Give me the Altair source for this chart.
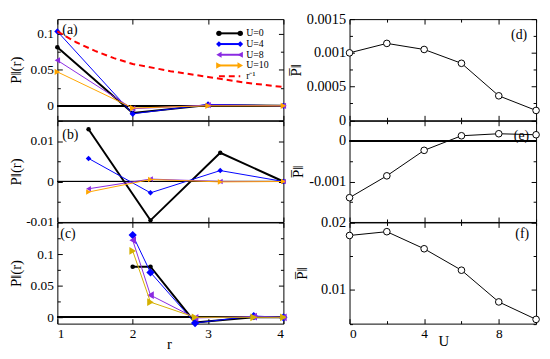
import altair as alt
import pandas as pd

FONT = "Liberation Serif"

# ---------------- data ----------------
series_names = ["U=0", "U=4", "U=8", "U=10"]
inv_name = "r\u207b\u00b9"

# panel (a)
r_a = [1.0, 2.0, 3.0, 4.0]
a_u0 = [0.081, -0.010, 0.001, 0.0]
a_u4 = [0.103, -0.011, 0.002, 0.0]
a_u8 = [0.063, -0.004, 0.001, 0.0]
a_u10 = [0.047, -0.003, 0.0, 0.0]
r_inv = [1.0, 1.25, 1.5, 1.75, 2.0, 2.5, 3.0, 3.5, 4.0]
v_inv = [0.103, 0.088, 0.076, 0.066, 0.058, 0.048, 0.040, 0.032, 0.026]

# panel (b)
r_b = [1.414, 2.236, 3.162, 4.0]
b_u0 = [0.0129, -0.0096, 0.0071, 0.0]
b_u4 = [0.0057, -0.0028, 0.0027, 0.0]
b_u8 = [-0.0018, 0.0006, 0.0, 0.0]
b_u10 = [-0.0026, 0.0005, -0.0001, 0.0]

# panel (c)
r_c = [2.0, 2.236, 2.828, 3.606, 4.0]
c_u0 = [0.080, 0.080, -0.008, 0.0, 0.0]
c_u4 = [0.130, 0.071, -0.009, 0.002, 0.0]
c_u8 = [0.122, 0.035, -0.001, 0.001, 0.0]
c_u10 = [0.105, 0.024, 0.0, 0.0, 0.0]

# panels (d)-(f)
U_vals = [0, 2, 4, 6, 8, 10]
d_vals = [0.00100, 0.00114, 0.00105, 0.000845, 0.000363, 0.000146]
e_vals = [-0.00140, -0.00086, -0.00023, 0.00013, 0.00018, 0.000155]
f_vals = [0.01807, 0.01863, 0.0161, 0.01292, 0.00822, 0.00563]

panel_labels = ["(a)", "(b)", "(c)", "(d)", "(e)", "(f)"]


def table(xs, named):
    rows = []
    for name, vals in named:
        for x, y in zip(xs, vals):
            rows.append({"x": x, "y": y, "s": name})
    return pd.DataFrame(rows)


df_a = table(r_a, zip(series_names, [a_u0, a_u4, a_u8, a_u10]))
df_inv = table(r_inv, [(inv_name, v_inv)])
df_a = pd.concat([df_a, df_inv], ignore_index=True)
df_b = table(r_b, zip(series_names, [b_u0, b_u4, b_u8, b_u10]))
df_c = table(r_c, zip(series_names, [c_u0, c_u4, c_u8, c_u10]))
df_d = table(U_vals, [("d", d_vals)])
df_e = table(U_vals, [("e", e_vals)])
df_f = table(U_vals, [("f", f_vals)])

# ---------------- styles ----------------
COL = {"U=0": "#000000", "U=4": "#0000ff", "U=8": "#8a2be2", "U=10": "#ffa500"}
COL_C = dict(COL, **{"U=10": "#d4b000"})
SHAPE = {"U=0": "circle", "U=4": "diamond", "U=8": "triangle-left", "U=10": "triangle-right"}
LW = {"U=0": 2.0, "U=4": 1.0, "U=8": 1.0, "U=10": 1.0}

WL, WR, H = 229, 189, 102.5

legend_names = series_names + [inv_name]
legend_colors = [COL[s] for s in series_names] + ["#ff0000"]
LEG_X0, LEG_X1, LEG_TX = 163.7, 185.3, 191.3
LEG_Y = [14.4, 57.8]


def tick_axis(orient, values, size, offset):
    return alt.Axis(orient=orient, values=values, offset=offset, tickSize=size, ticks=True,
                    labels=False, domain=False, grid=False, title=None,
                    tickColor="black", tickWidth=1)


def label_layer(text, x, y, align):
    return alt.Chart(pd.DataFrame({"t": [text]})).mark_text(
        align=align, baseline="middle", font=FONT, fontSize=14, color="black"
    ).encode(text="t:N", x=alt.value(x), y=alt.value(y))


def panel(df, data_layers, xdom, ydom, w, h, xmaj, xmin, ymaj, ymin, ylab, ytitle, ytitle_x,
          lab_size, label, xlab=None, xtitle=None, xtitle_x=None, xtitle_y=20,
          extra=None, zero=True):
    xs = alt.Scale(domain=xdom, nice=False, zero=False)
    ys = alt.Scale(domain=ydom, nice=False, zero=False)

    def X(ax):
        return alt.X("x:Q", scale=xs, axis=ax)

    def Y(ax):
        return alt.Y("y:Q", scale=ys, axis=ax)

    empty = alt.Chart(df).transform_filter("false").mark_point(opacity=0)
    yl = alt.Axis(orient="left", values=ylab, ticks=False, tickSize=0, domain=False, grid=False,
                  labelExpr="toString(datum.value)", labelFont=FONT, labelFontSize=lab_size,
                  labelColor="black", labelPadding=4, labelOverlap=False,
                  title=ytitle, titleFont=FONT, titleFontSize=15, titleFontWeight="normal",
                  titleColor="black", titleAngle=270, titleX=ytitle_x, titleY=h / 2,
                  titleBaseline="middle", titleAlign="center")
    if xlab is not None:
        xl = alt.Axis(orient="bottom", values=xlab, ticks=False, tickSize=0, domain=False,
                      grid=False, labelExpr="toString(datum.value)", labelFont=FONT,
                      labelFontSize=13.5, labelColor="black", labelPadding=3, labelOverlap=False,
                      title=xtitle, titleFont=FONT, titleFontSize=15, titleFontWeight="normal",
                      titleColor="black", titleX=xtitle_x, titleY=xtitle_y,
                      titleBaseline="middle", titleAlign="center")
    else:
        xl = None
    layers = []
    if zero:
        layers.append(alt.Chart(df).mark_rule(color="black", strokeWidth=1).encode(
            y=alt.YDatum(0, scale=ys, axis=None)))
    layers.append(label_layer(*label))
    for lay in data_layers:
        layers.append(lay(X(None), Y(None)))
    layers += [
        empty.encode(x=X(xl), y=Y(yl)),
        empty.encode(x=X(tick_axis("bottom", xmaj, 5, -h)), y=Y(tick_axis("right", ymaj, 5, -w))),
        empty.encode(x=X(tick_axis("top", xmaj, 5, -h)), y=Y(tick_axis("left", ymaj, 5, -w))),
        empty.encode(x=X(tick_axis("bottom", xmin, 3, -h)), y=Y(tick_axis("right", ymin, 3, -w))),
        empty.encode(x=X(tick_axis("top", xmin, 3, -h)), y=Y(tick_axis("left", ymin, 3, -w))),
    ]
    if extra is not None:
        layers += extra
    ch = alt.layer(*layers).resolve_axis(x="independent", y="independent")
    if extra is not None:
        ch = ch.resolve_scale(y="independent")
    return ch.properties(width=w, height=h)


def series_layer(df, name, color, lw, shape, size, dash=None):
    def make(xe, ye):
        base = alt.Chart(df).transform_filter(alt.datum.s == name)
        kw = dict(color=color, strokeWidth=lw)
        if dash:
            kw["strokeDash"] = dash
        line = base.mark_line(**kw).encode(x=xe, y=ye)
        if shape is None:
            return line
        pts = base.mark_point(filled=True, shape=shape, size=size, color=color,
                              opacity=1, strokeWidth=0.5).encode(x=xe, y=ye)
        return alt.layer(line, pts)
    return make


def hollow_layer(df):
    def make(xe, ye):
        base = alt.Chart(df)
        line = base.mark_line(color="black", strokeWidth=1).encode(x=xe, y=ye)
        pts = base.mark_point(shape="circle", filled=True, fill="white", stroke="black",
                              strokeWidth=1, size=45, opacity=1).encode(x=xe, y=ye)
        return alt.layer(line, pts)
    return make


# ---------------- legend of panel (a), built from the legend names ----------------
leg_df = pd.DataFrame({"s": legend_names, "row": list(range(len(legend_names)))})
row_y = alt.Y("row:Q", scale=alt.Scale(domain=[0, len(legend_names) - 1], range=LEG_Y,
                                        zero=False, nice=False), axis=None)
leg_color = alt.Color("s:N", scale=alt.Scale(domain=legend_names, range=legend_colors),
                      legend=None)
leg_shape = alt.Shape("s:N", scale=alt.Scale(domain=series_names,
                                             range=[SHAPE[s] for s in series_names]),
                      legend=None)
leg_size = alt.Size("s:N", scale=alt.Scale(domain=series_names, range=[30, 42, 42, 42]),
                    legend=None)
leg_base = alt.Chart(leg_df)
leg_series = leg_base.transform_filter(alt.datum.s != inv_name)
legend_layers = [
    leg_series.mark_rule(strokeWidth=2).encode(
        x=alt.value(LEG_X0), x2=alt.value(LEG_X1), y=row_y, color=leg_color),
    leg_base.transform_filter(alt.datum.s == inv_name).mark_rule(
        strokeWidth=2, strokeDash=[6, 4]).encode(
        x=alt.value(LEG_X0), x2=alt.value(LEG_X1), y=row_y, color=leg_color),
    leg_series.mark_point(filled=True, opacity=1).encode(
        x=alt.value(LEG_X0), y=row_y, color=leg_color, shape=leg_shape, size=leg_size),
    leg_series.mark_point(filled=True, opacity=1).encode(
        x=alt.value(LEG_X1), y=row_y, color=leg_color, shape=leg_shape, size=leg_size),
    leg_base.mark_text(align="left", baseline="middle", font=FONT, fontSize=10,
                       color="black").encode(x=alt.value(LEG_TX), y=row_y, text="s:N"),
]

YT_L = "P\u2016(r)"
YT_R = "P\u0305\u2016"

sizes_a = {"U=0": 22, "U=4": 40, "U=8": 40, "U=10": 40}
sizes_b = {"U=0": 20, "U=4": 32, "U=8": 32, "U=10": 32}
sizes_c = {"U=0": 22, "U=4": 70, "U=8": 60, "U=10": 60}

layers_a = [series_layer(df_a, s, COL[s], LW[s], SHAPE[s], sizes_a[s]) for s in series_names]
layers_a.append(series_layer(df_a, inv_name, "#ff0000", 2, None, 0, dash=[6, 4]))
layers_b = [series_layer(df_b, s, COL[s], LW[s], SHAPE[s], sizes_b[s]) for s in series_names]
layers_c = [series_layer(df_c, s, COL_C[s], LW[s], SHAPE[s], sizes_c[s]) for s in series_names]

pa = panel(df_a, layers_a, [1, 4], [-0.02, 0.12], WL, H, [1, 2, 3, 4], [],
           [-0.02, 0, 0.05, 0.1], [0.025, 0.075], [0, 0.05, 0.1], YT_L, -42, 13.5,
           (panel_labels[0], 5, 11.2, "left"), extra=legend_layers)
pb = panel(df_b, layers_b, [1, 4], [-0.01, 0.015], WL, H, [1, 2, 3, 4], [],
           [-0.01, 0, 0.01], [-0.005, 0.005], [-0.01, 0, 0.01], YT_L, -42, 13.5,
           (panel_labels[1], 5, 14, "left"))
pc = panel(df_c, layers_c, [1, 4], [-0.01, 0.15], WL, H, [1, 2, 3, 4], [],
           [0, 0.05, 0.1], [0.025, 0.075, 0.125], [0, 0.05, 0.1], YT_L, -42, 13.5,
           (panel_labels[2], 3, 11.5, "left"),
           xlab=[1, 2, 3, 4], xtitle="r", xtitle_x=113, xtitle_y=20)

pd_ = panel(df_d, [hollow_layer(df_d)], [0, 10], [0, 0.0015], WR, H, [0, 4, 8], [2, 6, 10],
            [0, 0.0005, 0.001, 0.0015], [0.00025, 0.00075, 0.00125],
            [0, 0.0005, 0.001, 0.0015], YT_R, -55, 14.5,
            (panel_labels[3], WR - 9, 16, "right"), zero=False)
pe = panel(df_e, [hollow_layer(df_e)], [0, 10], [-0.002, 0.0005], WR, H, [0, 4, 8], [2, 6, 10],
           [-0.002, -0.001, 0], [-0.0015, -0.0005], [-0.001, 0], YT_R, -53, 14.5,
           (panel_labels[4], WR - 7, 15, "right"))
pf = panel(df_f, [hollow_layer(df_f)], [0, 10], [0.005, 0.02], WR, H, [0, 4, 8], [2, 6, 10],
           [0.01, 0.02], [0.005, 0.015], [0.01, 0.02], YT_R, -49, 14.5,
           (panel_labels[5], WR - 7, 12.1, "right"),
           xlab=[0, 4, 8], xtitle="U", xtitle_x=95, xtitle_y=17, zero=False)

chart = (
    alt.concat(pa, pd_, pb, pe, pc, pf, columns=2,
               spacing={"row": 0, "column": 67}, bounds="flush")
    .resolve_scale(color="independent", shape="independent", size="independent")
    .properties(padding=0, background="white")
    .configure_view(stroke="black", strokeWidth=1)
)

chart.save("out.html", embed_options={"renderer": "svg", "actions": False})
